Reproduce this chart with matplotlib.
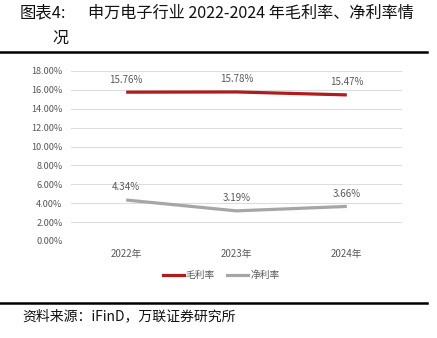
import matplotlib
matplotlib.use("Agg")
import matplotlib.pyplot as plt
from matplotlib.lines import Line2D

plt.rcParams['font.family'] = ['Noto Sans CJK SC', 'DejaVu Sans']

years = ["2022年", "2023年", "2024年"]
gross_margin = [15.76, 15.78, 15.47]
net_margin = [4.34, 3.19, 3.66]
yticks = [0, 2, 4, 6, 8, 10, 12, 14, 16, 18]

W, H = 437, 338
fig = plt.figure(figsize=(W / 100, H / 100), dpi=100)

red = "#B01C1C"
gray = "#A6A6A6"
txt = "#595959"

ax = fig.add_axes([71 / W, 1 - 241 / H, (402 - 71) / W, (241 - 71) / H])
x = list(range(len(years)))
ax.plot(x, gross_margin, color=red, lw=2.3, solid_capstyle='butt')
ax.plot(x, net_margin, color=gray, lw=2.3, solid_capstyle='butt')
for xi, v in zip(x, gross_margin):
    ax.annotate(f"{v:.2f}%", (xi, v), xytext=(0, 5.5), textcoords="offset points",
                ha="center", va="bottom", fontsize=7, color=txt)
for xi, v in zip(x, net_margin):
    ax.annotate(f"{v:.2f}%", (xi, v), xytext=(0, 5.5), textcoords="offset points",
                ha="center", va="bottom", fontsize=7, color=txt)

ax.set_xlim(-0.5, 2.5)
ax.set_ylim(0, 18)
ax.set_yticks(yticks)
ax.set_yticklabels([f"{t:.2f}%" for t in yticks], fontsize=6.6, color=txt)
ax.set_xticks(x)
ax.set_xticklabels(years, fontsize=7, color=txt)
ax.tick_params(length=0, pad=6)
ax.grid(axis="y", color="#DDDDDD", lw=0.8)
ax.set_axisbelow(True)
for s in ax.spines.values():
    s.set_visible(False)

handles = [Line2D([], [], color=red, lw=2.3), Line2D([], [], color=gray, lw=2.3)]
fig.legend(handles, ["毛利率", "净利率"], loc="center", bbox_to_anchor=(221 / W, 1 - 275 / H),
           ncol=2, frameon=False, fontsize=7, handlelength=2.2, handletextpad=0.2,
           columnspacing=1.2, labelcolor=txt)

fig.text(20 / W, 1 - 13 / H, "图表4:", fontsize=11.8, va="center", ha="left", color="#111111")
fig.text(88 / W, 1 - 13 / H, "申万电子行业 2022-2024 年毛利率、净利率情", fontsize=11.6,
         va="center", ha="left", color="#111111")
fig.text(52 / W, 1 - 38 / H, "况", fontsize=11.6, va="center", ha="left", color="#111111")

fig.add_artist(Line2D([0, 427 / W], [1 - 51.5 / H] * 2, color="black", lw=1.8))
fig.add_artist(Line2D([0, 427 / W], [1 - 302.5 / H] * 2, color="black", lw=1.8))

fig.text(22 / W, 1 - 316 / H, "资料来源：iFinD，万联证券研究所", fontsize=10,
         va="center", ha="left", color="#111111", style="italic")

fig.savefig("out.png", dpi=100)
